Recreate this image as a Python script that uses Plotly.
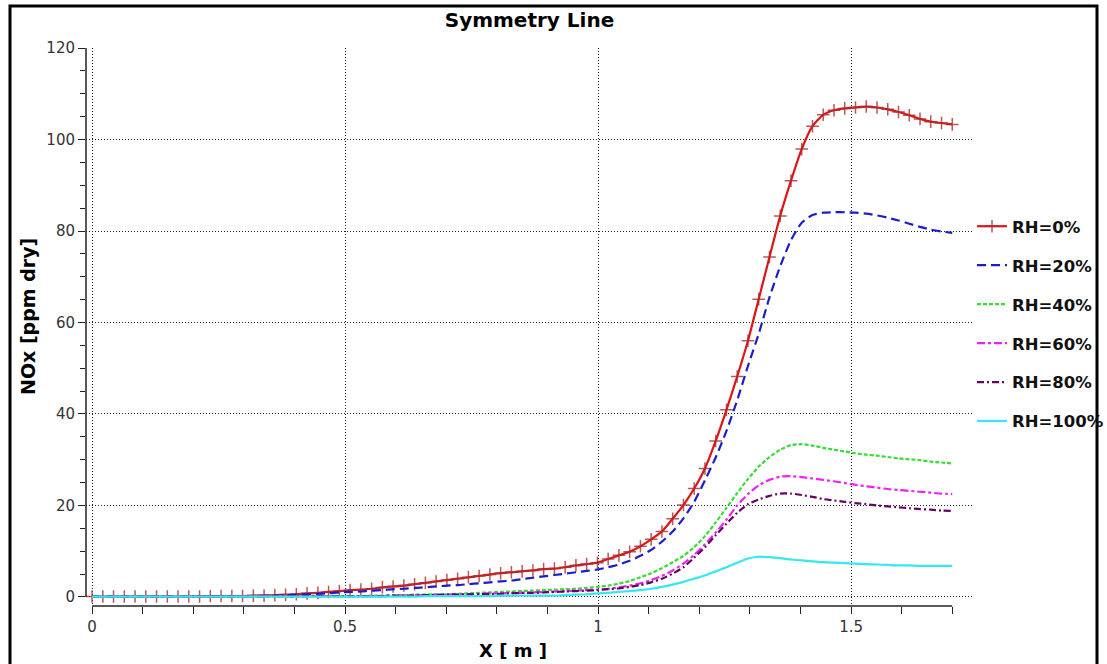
import plotly.graph_objects as go

# ---- data ----
x_m = [0.0, 0.0213, 0.0425, 0.0638, 0.085, 0.1063, 0.1275, 0.1488, 0.17, 0.1913,
       0.2125, 0.2338, 0.255, 0.2763, 0.2975, 0.3188, 0.34, 0.3613, 0.3825, 0.4038,
       0.425, 0.4463, 0.4675, 0.4888, 0.51, 0.5313, 0.5525, 0.5738, 0.595, 0.6163,
       0.6375, 0.6588, 0.68, 0.7013, 0.7225, 0.7438, 0.765, 0.7863, 0.8075, 0.8288,
       0.85, 0.8713, 0.8925, 0.9138, 0.935, 0.9563, 0.9775, 0.9988, 1.02, 1.0413,
       1.0625, 1.0838, 1.105, 1.1263, 1.1475, 1.1688, 1.19, 1.2113, 1.2325, 1.2538,
       1.275, 1.2963, 1.3175, 1.3388, 1.36, 1.3813, 1.4025, 1.4238, 1.445, 1.4663,
       1.4875, 1.5088, 1.53, 1.5513, 1.5725, 1.5938, 1.615, 1.6363, 1.6575, 1.6788, 1.7]

rh0 = [0.1, 0.1, 0.1, 0.1, 0.1, 0.1, 0.1, 0.1, 0.1, 0.1, 0.1, 0.2, 0.2, 0.2, 0.2,
       0.3, 0.3, 0.4, 0.5, 0.6, 0.8, 0.9, 1.1, 1.3, 1.5,
       1.6, 1.8, 2.1, 2.3, 2.5, 2.8, 3.1, 3.4, 3.7, 4.0,
       4.3, 4.6, 4.9, 5.2, 5.4, 5.6, 5.8, 6.1, 6.2, 6.5,
       6.9, 7.2, 7.5, 8.3, 9.1, 9.9, 11.1, 12.6, 14.3, 17.1,
       20.1, 23.7, 28.1, 34.1, 40.9, 48.2, 56.0, 65.1, 74.3, 83.3,
       91.0, 97.9, 102.9, 105.4, 106.4, 106.8, 107.0, 107.2, 107.0, 106.6,
       106.0, 105.3, 104.5, 103.9, 103.6, 103.3]

rh20 = [0.1, 0.1, 0.1, 0.1, 0.1, 0.1, 0.1, 0.1, 0.1, 0.1, 0.2, 0.2, 0.2, 0.2, 0.2,
        0.2, 0.3, 0.3, 0.4, 0.5, 0.6, 0.7, 0.8, 1.0, 1.1,
        1.2, 1.4, 1.5, 1.7, 1.8, 2.0, 2.1, 2.3, 2.5, 2.6,
        2.8, 3.0, 3.2, 3.4, 3.6, 3.9, 4.2, 4.5, 4.8, 5.1,
        5.4, 5.7, 6.0, 6.5, 7.1, 7.9, 9.0, 10.3, 12.1, 14.3,
        17.2, 20.8, 25.5, 30.5, 36.3, 43.0, 50.5, 57.5, 65.5, 72.3,
        78.0, 81.8, 83.5, 84.0, 84.1, 84.1, 84.0, 83.8, 83.4, 82.9,
        82.3, 81.6, 80.9, 80.3, 79.9, 79.6]

rh40 = [0.1, 0.1, 0.1, 0.1, 0.1, 0.1, 0.1, 0.1, 0.1, 0.1, 0.1, 0.1, 0.1, 0.1, 0.1,
        0.1, 0.1, 0.1, 0.1, 0.1, 0.2, 0.2, 0.2, 0.2, 0.2, 0.2,
        0.3, 0.3, 0.4, 0.4, 0.5, 0.5, 0.6, 0.6,
        0.7, 0.8, 0.9, 1.0, 1.1, 1.2, 1.3, 1.4, 1.5, 1.6, 1.7,
        1.8, 2.0, 2.2, 2.5, 2.9, 3.5, 4.3, 5.2, 6.3, 7.6,
        9.0, 10.9, 13.3, 16.3, 19.5, 22.7, 25.8, 28.5, 30.6, 32.2,
        33.2, 33.4, 33.1, 32.6, 32.2, 31.8, 31.4, 31.1, 30.9, 30.6,
        30.3, 30.1, 29.9, 29.6, 29.4, 29.2]

rh60 = [0.1, 0.1, 0.1, 0.1, 0.1, 0.1, 0.1, 0.1, 0.1, 0.1, 0.1, 0.1, 0.1, 0.1, 0.1,
        0.1, 0.1, 0.2, 0.2, 0.2, 0.2, 0.2, 0.2, 0.2, 0.2, 0.2, 0.2,
        0.2, 0.3, 0.3, 0.4, 0.4, 0.5, 0.5,
        0.6, 0.6, 0.7, 0.8, 0.8, 0.9, 0.9, 1.0, 1.1, 1.2, 1.3,
        1.4, 1.5, 1.6, 1.8, 2.1, 2.5, 3.0, 3.7, 4.6, 5.8,
        7.3, 9.2, 11.5, 14.1, 16.9, 20.0, 22.5, 24.4, 25.6, 26.3,
        26.4, 26.2, 25.9, 25.6, 25.3, 24.9, 24.5, 24.2, 23.9, 23.6,
        23.4, 23.2, 23.0, 22.8, 22.6, 22.5]

rh80 = [0.1, 0.1, 0.1, 0.1, 0.1, 0.1, 0.1, 0.1, 0.1, 0.1, 0.1, 0.1, 0.1, 0.1, 0.1,
        0.1, 0.1, 0.2, 0.2, 0.2, 0.2, 0.2, 0.2, 0.2, 0.2, 0.2, 0.2,
        0.2, 0.3, 0.3, 0.3, 0.4, 0.4, 0.5,
        0.5, 0.6, 0.6, 0.7, 0.7, 0.8, 0.9, 0.9, 1.0, 1.1, 1.2,
        1.3, 1.4, 1.5, 1.7, 1.9, 2.2, 2.6, 3.2, 4.0, 5.1,
        6.5, 8.6, 10.9, 13.5, 16.0, 18.4, 20.3, 21.3, 22.1, 22.6,
        22.6, 22.3, 21.9, 21.4, 21.1, 20.8, 20.5, 20.3, 20.0, 19.8,
        19.6, 19.4, 19.2, 19.1, 18.9, 18.8]

rh100 = [0.1, 0.1, 0.1, 0.1, 0.1, 0.1, 0.1, 0.1, 0.1, 0.1,
         0.1, 0.1, 0.1, 0.1, 0.1, 0.1, 0.1, 0.1, 0.1, 0.1,
         0.1, 0.1, 0.1, 0.1, 0.1, 0.1, 0.1, 0.1, 0.1, 0.1, 0.1,
         0.2, 0.2, 0.2, 0.2, 0.2, 0.2, 0.2,
         0.3, 0.3, 0.3, 0.3, 0.3, 0.3,
         0.4, 0.5, 0.6, 0.8, 0.9, 1.1, 1.3, 1.5, 1.8, 2.2, 2.7,
         3.3, 4.0, 4.7, 5.6, 6.5, 7.5, 8.4, 8.8, 8.7, 8.5,
         8.2, 8.0, 7.8, 7.6, 7.5, 7.4, 7.3, 7.2, 7.1, 7.0,
         6.9, 6.9, 6.8, 6.8, 6.8, 6.8]

series_names = ["RH=0%", "RH=20%", "RH=40%", "RH=60%", "RH=80%", "RH=100%"]
series_values = [rh0, rh20, rh40, rh60, rh80, rh100]
series_colors = ["#e01414", "#1c1ccc", "#33dd33", "#ee22ee", "#660066", "#33e8f0"]
series_dash = ["solid", "9px,5px", "4px,2px", "8px,3px,3px,3px", "7px,3px,2px,3px", "solid"]

FONT = "DejaVu Sans"

fig = go.Figure()
for i, (name, vals, col, dash) in enumerate(zip(series_names, series_values, series_colors, series_dash)):
    if i == 0:
        kw = dict(mode="lines+markers",
                  marker=dict(symbol="cross-thin", size=9,
                              line=dict(width=1.5, color="rgba(170,45,45,0.8)")))
    else:
        kw = dict(mode="lines")
    fig.add_trace(go.Scatter(x=x_m, y=vals, name=name, legendgroup=name,
                             line=dict(color=col, width=2.2, dash=dash, shape="spline", smoothing=0.6),
                             **kw))

# geometry in screen pixels (body margin removed by post_script)
W, H = 1107, 664
L, R, T, B = 86, 973, 48, 606
pw, ph = R - L, B - T


def px_x(p):
    return (p - L) / pw


def px_y(p):
    return (B - p) / ph


fig.update_layout(
    width=W, height=H,
    margin=dict(l=L, r=W - R, t=T, b=H - B, autoexpand=False),
    paper_bgcolor="white", plot_bgcolor="white",
    title=dict(text="Symmetry Line", x=0.5, xref="paper", xanchor="center",
               y=1 - 20 / H, yanchor="middle",
               font=dict(family=FONT, size=20, weight="bold", color="black")),
    showlegend=True,
    legend=dict(x=px_x(972), xanchor="left", y=px_y(209), yanchor="top",
                font=dict(family=FONT, size=16.5, weight="bold", color="#111"),
                tracegroupgap=14.5, itemwidth=30, bgcolor="rgba(0,0,0,0)"),
    xaxis=dict(range=[-0.0119, 1.741], tick0=0, dtick=0.5, ticks="outside", ticklen=7,
               tickcolor="#222", tickwidth=1, showline=False, zeroline=False,
               showgrid=True, gridcolor="#222", griddash="1px,2px", gridwidth=1,
               tickfont=dict(family=FONT, size=15, color="#333"),
               minor=dict(dtick=0.1, tick0=0, ticks="outside", ticklen=7, tickcolor="#222", showgrid=False)),
    yaxis=dict(range=[-1.97, 120], tick0=0, dtick=20, ticks="outside", ticklen=7,
               tickcolor="#222", tickwidth=1, showline=False, zeroline=False,
               showgrid=True, gridcolor="#222", griddash="1px,2px", gridwidth=1,
               tickfont=dict(family=FONT, size=15, color="#333"),
               minor=dict(dtick=5, tick0=0, ticks="outside", ticklen=5, tickcolor="#222", showgrid=False)),
    shapes=[
        dict(type="line", xref="x", yref="paper", x0=0, x1=1.7, y0=0, y1=0,
             line=dict(color="#222", width=1.5)),
        dict(type="line", xref="paper", yref="y", x0=0, x1=0, y0=0, y1=120,
             line=dict(color="#222", width=1.5)),
        dict(type="rect", xref="paper", yref="paper",
             x0=px_x(10), x1=px_x(1097), y0=px_y(690), y1=px_y(6),
             line=dict(color="black", width=3), fillcolor="rgba(0,0,0,0)", layer="above"),
    ],
    annotations=[
        dict(text="NOx [ppm dry]", textangle=-90, xref="paper", yref="paper",
             x=px_x(28), y=px_y(317), xanchor="center", yanchor="middle", showarrow=False,
             font=dict(family=FONT, size=19, weight="bold", color="black")),
        dict(text="X [ m ]", xref="paper", yref="paper",
             x=px_x(513), y=px_y(650), xanchor="center", yanchor="middle", showarrow=False,
             font=dict(family=FONT, size=18, weight="bold", color="black")),
    ],
)

fig.write_html("out.html",
               config={"displayModeBar": False},
               post_script="document.body.style.margin='0';document.body.style.padding='0';")
